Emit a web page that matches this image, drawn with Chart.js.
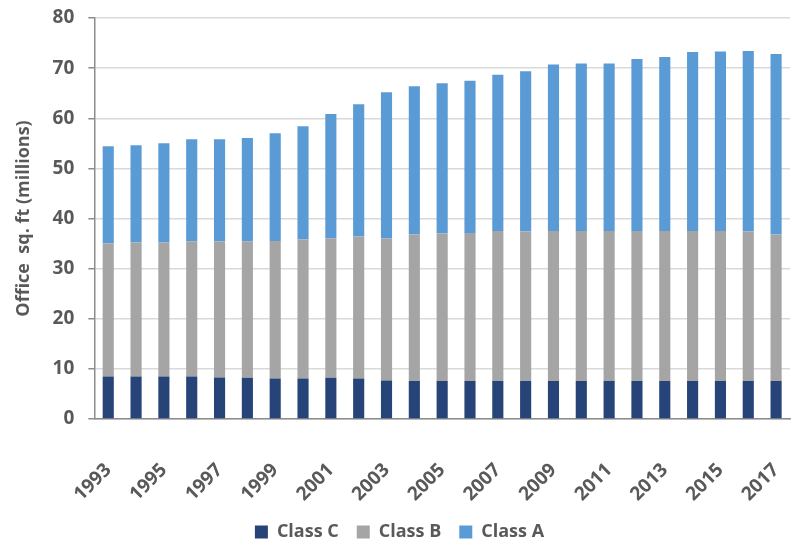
<!DOCTYPE html>
<html>
<head>
<meta charset="utf-8">
<script src="https://cdn.jsdelivr.net/npm/chart.js@4.4.1/dist/chart.umd.min.js"></script>
<style>
  html, body { margin: 0; padding: 0; background: #fff; }
  #wrap { width: 793px; height: 540px; }
</style>
</head>
<body>
<div id="wrap"><canvas id="c" width="793" height="540"></canvas></div>
<script>
var years = ['1993','1994','1995','1996','1997','1998','1999','2000','2001','2002','2003','2004','2005',
             '2006','2007','2008','2009','2010','2011','2012','2013','2014','2015','2016','2017'];
var classC = [8.5,8.5,8.5,8.5,8.3,8.25,8.1,8.1,8.25,8.1,7.7,7.6,7.6,7.6,7.6,7.6,7.6,7.6,7.6,7.6,7.6,7.6,7.6,7.6,7.6];
var classB = [26.5,26.7,26.7,26.9,27.1,27.2,27.4,27.7,27.8,28.3,28.3,29.2,29.4,29.5,29.9,29.8,29.9,29.9,29.9,29.9,29.9,29.9,29.9,29.8,29.2];
var classA = [19.4,19.4,19.8,20.4,20.4,20.6,21.5,22.6,24.8,26.4,29.2,29.6,30.0,30.4,31.2,32.0,33.2,33.4,33.4,34.3,34.7,35.7,35.8,36.0,36.0];
var yTicks = [0,10,20,30,40,50,60,70,80];

var fontFam = "'Open Sans', 'Liberation Sans', sans-serif";
var txtColor = '#595959';

new Chart(document.getElementById('c'), {
    type: 'bar',
    data: {
        labels: years,
        datasets: [
            { label: 'Class C', data: classC, backgroundColor: '#264478', borderWidth: 0 },
            { label: 'Class B', data: classB, backgroundColor: '#A5A5A5', borderWidth: 0 },
            { label: 'Class A', data: classA, backgroundColor: '#5B9BD5', borderWidth: 0 }
        ]
    },
    options: {
        responsive: false,
        animation: false,
        layout: { padding: { left: 9, right: 3, top: 18, bottom: -11 } },
        datasets: {
            bar: { categoryPercentage: 1.0, barPercentage: 0.4 }
        },
        scales: {
            x: {
                stacked: true,
                grid: { display: false, drawTicks: false },
                border: { display: true, color: '#8c8c8c', width: 1.5 },
                // rotated labels hang to the left; fix the band height so the legend sits close
                afterFit: function (axis) {
                    axis.paddingRight = 0;
                    axis.height = 86;
                },
                ticks: {
                    autoSkip: false,
                    maxRotation: 45,
                    minRotation: 45,
                    padding: 40,
                    color: txtColor,
                    font: { family: fontFam, size: 19, weight: 'bold' },
                    callback: function (value, index) {
                        return index % 2 === 0 ? years[index] : '';
                    }
                }
            },
            y: {
                stacked: true,
                min: 0,
                max: 80,
                afterBuildTicks: function (axis) {
                    axis.ticks = yTicks.map(function (v) { return { value: v }; });
                },
                afterFit: function (axis) { axis.paddingTop = 0; axis.paddingBottom = 0; },
                grid: { color: '#d9d9d9', lineWidth: 1.5, drawTicks: true, tickLength: 6, tickColor: '#8c8c8c' },
                border: { display: true, color: '#8c8c8c', width: 1.5 },
                ticks: {
                    padding: 14,
                    color: txtColor,
                    font: { family: fontFam, size: 19, weight: 'bold' }
                },
                title: {
                    display: true,
                    text: 'Office  sq. ft (millions)',
                    color: txtColor,
                    padding: { bottom: 4 },
                    font: { family: fontFam, size: 18, weight: 'bold' }
                }
            }
        },
        plugins: {
            legend: {
                position: 'bottom',
                labels: {
                    boxWidth: 13,
                    boxHeight: 13,
                    padding: 18,
                    color: txtColor,
                    font: { family: fontFam, size: 18, weight: 'bold' }
                },
                onClick: (e) => e.stopPropagation()
            },
            tooltip: { enabled: false }
        }
    }
});
</script>
</body>
</html>
